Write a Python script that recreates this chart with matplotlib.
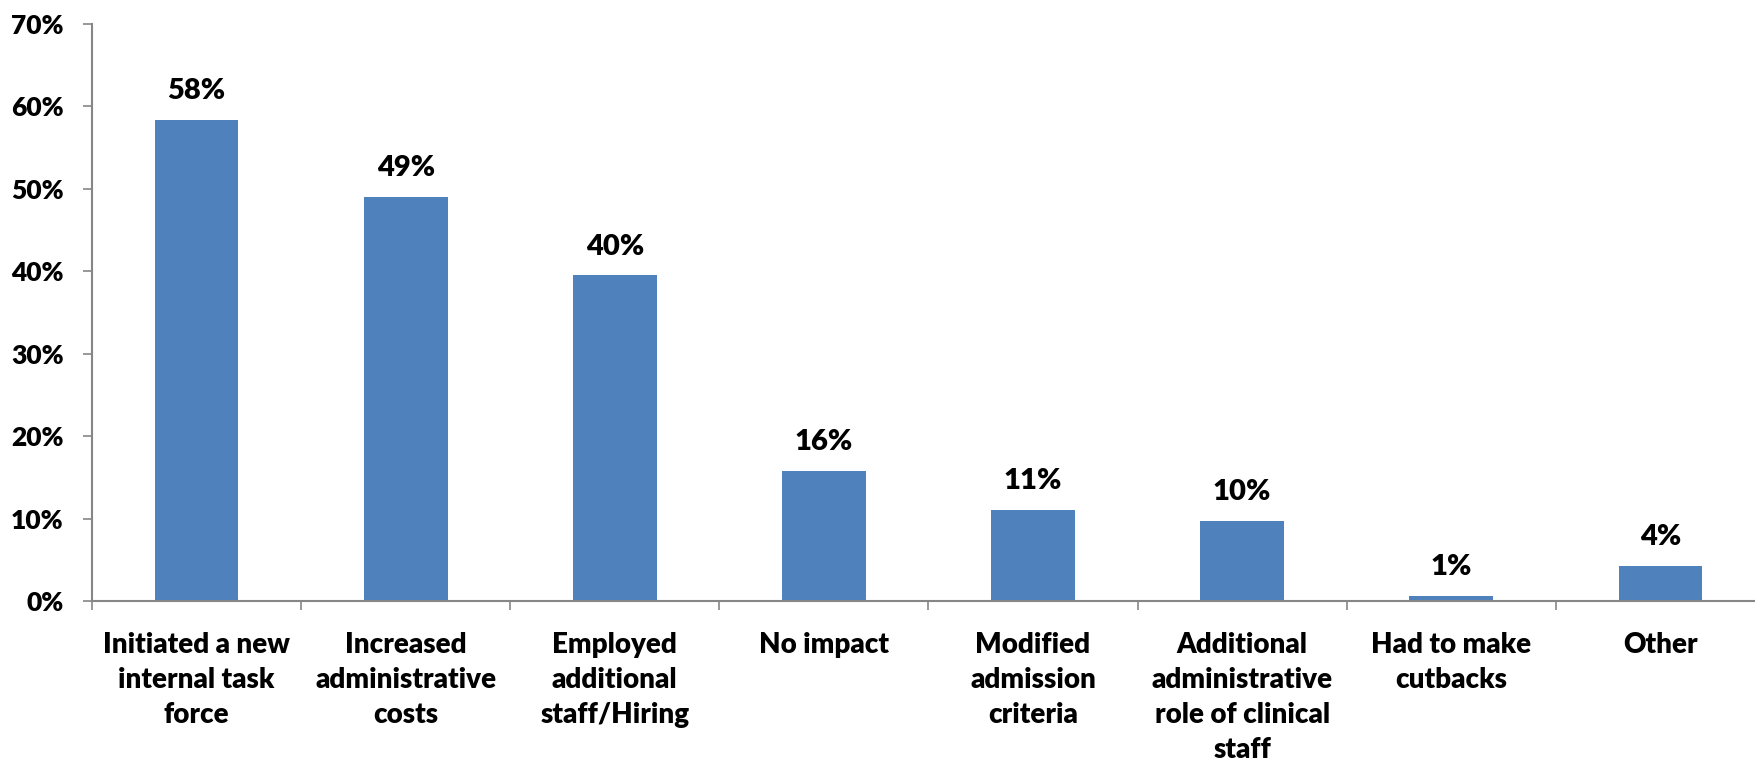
import numpy as np
import matplotlib.pyplot as plt
from matplotlib.ticker import FuncFormatter, FixedLocator

plt.rcParams['font.family'] = ['Lato', 'DejaVu Sans']
plt.rcParams['font.weight'] = 'heavy'

# survey responses (share of respondents)
categories = ['Initiated a new\ninternal task\nforce',
              'Increased\nadministrative\ncosts',
              'Employed\nadditional\nstaff/Hiring',
              'No impact',
              'Modified\nadmission\ncriteria',
              'Additional\nadministrative\nrole of clinical\nstaff',
              'Had to make\ncutbacks',
              'Other']
shares = [58.4, 49.0, 39.5, 15.8, 11.0, 9.7, 0.6, 4.3]
yticks = [0, 10, 20, 30, 40, 50, 60, 70]

blue = '#4F81BD'
axcol = '#868686'

fig = plt.figure(figsize=(17.56, 7.65), dpi=100)
ax = fig.add_axes([0.0524, 0.2144, 1.0051 - 0.0524, 0.9686 - 0.2144])

x = np.arange(len(categories))
bars = ax.bar(x, shares, width=0.40, color=blue, zorder=3)

for xi, v in zip(x, shares):
    ax.annotate('%.0f%%' % v, (xi, v), xytext=(0, 15), textcoords='offset points',
                ha='center', va='baseline', fontsize=21, fontweight='heavy')

ax.set_xlim(-0.5, len(categories) - 0.5)
ax.set_ylim(0, 70)
ax.set_yticks(yticks)
ax.yaxis.set_major_formatter(FuncFormatter(lambda v, p: '%d%%' % v))
ax.tick_params(axis='y', direction='out', length=6.5, width=1.2, color=axcol,
               pad=14, labelsize=19)

# category labels at centres, tick marks between categories
ax.set_xticks(x)
ax.set_xticklabels(categories, fontsize=20, fontweight='heavy', linespacing=1.44, va='top')
ax.tick_params(axis='x', which='major', length=0, pad=22)
ax.xaxis.set_minor_locator(FixedLocator(np.arange(-0.5, len(categories), 1.0)))
ax.tick_params(axis='x', which='minor', direction='out', length=6.5, width=1.2, color=axcol)

for s in ['top', 'right']:
    ax.spines[s].set_visible(False)
for s in ['left', 'bottom']:
    ax.spines[s].set_color(axcol)
    ax.spines[s].set_linewidth(1.5)
ax.spines['bottom'].set_zorder(4)

fig.savefig('out.png', dpi=100)
